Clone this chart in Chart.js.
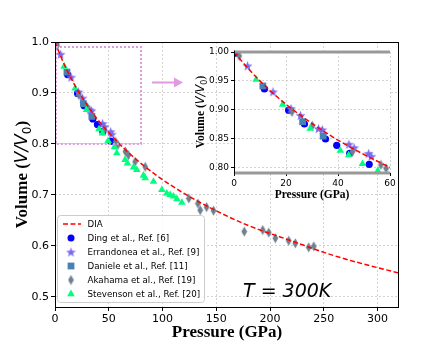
<!DOCTYPE html>
<html>
<head>
<meta charset="utf-8">
<script src="https://cdn.jsdelivr.net/npm/chart.js@4.4.0/dist/chart.umd.min.js"></script>
<style>
    html, body { margin: 0; padding: 0; background: #fff; }
    #wrap { position: relative; width: 443px; height: 346px; }
    #main { position: absolute; left: 0; top: 0; width: 443px; height: 346px; }
    #inset { position: absolute; left: 186px; top: 40px; width: 214px; height: 168px; }
</style>
</head>
<body>
<div id="wrap">
    <canvas id="main" width="443" height="346"></canvas>
    <canvas id="inset" width="214" height="168"></canvas>
</div>
<script>
// DIA curve
var diaP = [0, 5.7, 12.2, 19.8, 28.7, 38.9, 50.9, 64.8, 81.0, 100.0, 122.4, 148.7, 179.8, 219.6, 260.7, 313.5, 323.3];
var diaV = [1.0, 0.97, 0.94, 0.91, 0.88, 0.85, 0.82, 0.79, 0.76, 0.73, 0.70, 0.67, 0.64, 0.61, 0.58, 0.55, 0.545];

// Ding et al., Ref. [6]
var dingP = [0.6, 11.7, 21.0, 27.1, 35.2, 39.5, 44.5, 52.0];
var dingV = [0.998, 0.936, 0.899, 0.875, 0.849, 0.838, 0.824, 0.805];

// Errandonea et al., Ref. [9]
var errP = [5.2, 15.0, 21.9, 25.6, 32.5, 34.0, 44.2, 46.2, 51.8, 52.8];
var errV = [0.976, 0.931, 0.902, 0.890, 0.867, 0.865, 0.840, 0.834, 0.824, 0.819];

// Daniele et al., Ref. [11]
var danP = [11.1, 26.4, 34.3];
var danV = [0.941, 0.879, 0.854];

// Akahama et al., Ref. [19]
var akaP = [2.0, 22.3, 30.1, 45.6, 56.5, 58.5, 65.5, 68.3, 74.5, 83.9, 124.5, 133.0, 135.1, 141.0, 147.5, 176.1, 193.2, 198.8, 205.0, 217.4, 223.6, 236.0, 240.7];
var akaV = [0.993, 0.896, 0.872, 0.827, 0.804, 0.798, 0.785, 0.778, 0.765, 0.755, 0.693, 0.683, 0.670, 0.676, 0.669, 0.628, 0.631, 0.626, 0.615, 0.610, 0.605, 0.597, 0.599];

// Stevenson et al., Ref. [20]
var steP = [8.5, 18.7, 29.3, 40.9, 44.1, 49.4, 55.3, 57.5, 65.2, 67.4, 73.0, 76.1, 82.3, 83.9, 91.6, 99.4, 104.0, 107.1, 110.2, 113.4, 118.0];
var steV = [0.952, 0.909, 0.867, 0.829, 0.821, 0.806, 0.794, 0.782, 0.769, 0.762, 0.754, 0.749, 0.738, 0.733, 0.726, 0.710, 0.703, 0.700, 0.697, 0.692, 0.685];

var mainXTicks = [0, 50, 100, 150, 200, 250, 300];
var mainYTicks = [0.5, 0.6, 0.7, 0.8, 0.9, 1.0];
var insetXTicks = [0, 20, 40, 60];
var insetYTicks = [0.80, 0.85, 0.90, 0.95, 1.00];

var labels = ['DIA', 'Ding et al., Ref. [6]', 'Errandonea et al., Ref. [9]', 'Daniele et al., Ref. [11]', 'Akahama et al., Ref. [19]', 'Stevenson et al., Ref. [20]'];

var RED = '#ff0000', BLUE = '#0000ff', PURPLE = '#7b68ee', STEEL = '#4682b4', SLATE = '#708090', GREEN = '#00ff7f';
var PINK = '#e09be0';

function pts(xs, ys) {
    return xs.map(function (x, i) { return { x: x, y: ys[i] }; });
}

function makeStar() {
    var c = document.createElement('canvas');
    c.width = 11; c.height = 11;
    var g = c.getContext('2d');
    g.beginPath();
    for (var i = 0; i < 10; i++) {
        var r = i % 2 ? 2.1 : 5.2;
        var a = -Math.PI / 2 + i * Math.PI / 5;
        var px = 5.5 + r * Math.cos(a), py = 6 + r * Math.sin(a);
        if (i) g.lineTo(px, py); else g.moveTo(px, py);
    }
    g.closePath();
    g.fillStyle = PURPLE;
    g.fill();
    return c;
}

function makeDiamond() {
    var c = document.createElement('canvas');
    c.width = 7; c.height = 11;
    var g = c.getContext('2d');
    g.beginPath();
    g.moveTo(3.5, 0.5); g.lineTo(6.4, 5.5); g.lineTo(3.5, 10.5); g.lineTo(0.6, 5.5);
    g.closePath();
    g.fillStyle = SLATE;
    g.fill();
    return c;
}

var starImg = makeStar();
var diamondImg = makeDiamond();

function buildDatasets() {
    return [
        { label: labels[0], data: pts(diaP, diaV), showLine: true, borderColor: RED, borderWidth: 1.5,
          borderDash: [5, 2.5], pointRadius: 0, cubicInterpolationMode: 'monotone', order: 0 },
        { label: labels[1], data: pts(dingP, dingV), pointStyle: 'circle', pointRadius: 3.6,
          backgroundColor: BLUE, borderWidth: 0, order: 5, clip: 0 },
        { label: labels[2], data: pts(errP, errV), pointStyle: starImg, pointRadius: 5, order: 4, clip: 0 },
        { label: labels[3], data: pts(danP, danV), pointStyle: 'rect', pointRadius: 4.8,
          backgroundColor: STEEL, borderWidth: 0, order: 3, clip: 0 },
        { label: labels[4], data: pts(akaP, akaV), pointStyle: diamondImg, pointRadius: 5, order: 2, clip: 0 },
        { label: labels[5], data: pts(steP, steV), pointStyle: 'triangle', pointRadius: 4.4,
          backgroundColor: GREEN, borderWidth: 0, order: 1, clip: 0 }
    ];
}

function drawVolumeLabel(ctx, cx, cy, size) {
    var parts = [
        ['bold ' + size + 'px "Liberation Serif"', 'Volume (', 0],
        ['italic ' + size + 'px "DejaVu Sans"', 'V/V', 0],
        [Math.round(size * 0.7) + 'px "DejaVu Sans"', '0', size * 0.22],
        ['bold ' + size + 'px "Liberation Serif"', ')', 0]
    ];
    ctx.save();
    ctx.translate(cx, cy);
    ctx.rotate(-Math.PI / 2);
    var total = 0;
    parts.forEach(function (p) { ctx.font = p[0]; p.w = ctx.measureText(p[1]).width; total += p.w; });
    var x = -total / 2;
    ctx.fillStyle = '#000';
    ctx.textBaseline = 'alphabetic';
    parts.forEach(function (p) { ctx.font = p[0]; ctx.fillText(p[1], x, size * 0.35 + p[2]); x += p.w; });
    ctx.restore();
}

function drawPressureLabel(ctx, cx, cy, size) {
    ctx.save();
    ctx.font = 'bold ' + size + 'px "Liberation Serif"';
    ctx.fillStyle = '#000';
    ctx.textAlign = 'center';
    ctx.textBaseline = 'middle';
    ctx.fillText('Pressure (GPa)', cx, cy);
    ctx.restore();
}

function drawMarker(ctx, i, x, y) {
    ctx.save();
    if (i === 0) {
        ctx.strokeStyle = RED; ctx.lineWidth = 1.5; ctx.setLineDash([5, 2.5]);
        ctx.beginPath(); ctx.moveTo(x - 8, y); ctx.lineTo(x + 10, y); ctx.stroke();
    } else if (i === 1) {
        ctx.fillStyle = BLUE; ctx.beginPath(); ctx.arc(x, y, 3.5, 0, Math.PI * 2); ctx.fill();
    } else if (i === 2) {
        ctx.drawImage(starImg, x - 5.5, y - 5.5);
    } else if (i === 3) {
        ctx.fillStyle = STEEL; ctx.fillRect(x - 3.4, y - 3.4, 6.8, 6.8);
    } else if (i === 4) {
        ctx.drawImage(diamondImg, x - 3.5, y - 5.5);
    } else {
        ctx.fillStyle = GREEN; ctx.beginPath();
        ctx.moveTo(x, y - 4.4); ctx.lineTo(x + 3.8, y + 2.2); ctx.lineTo(x - 3.8, y + 2.2);
        ctx.closePath(); ctx.fill();
    }
    ctx.restore();
}

var mainDecor = {
    id: 'mainDecor',
    afterDraw: function (chart) {
        var ctx = chart.ctx, a = chart.chartArea, sx = chart.scales.x, sy = chart.scales.y;
        ctx.save();
        // zoom box
        ctx.strokeStyle = PINK; ctx.lineWidth = 2; ctx.setLineDash([2, 2]);
        var x0 = sx.getPixelForValue(0), x1 = sx.getPixelForValue(80);
        var y0 = sy.getPixelForValue(0.99), y1 = sy.getPixelForValue(0.8);
        ctx.strokeRect(x0 + 1, y0, x1 - x0 - 1, y1 - y0);
        ctx.setLineDash([]);
        // arrow
        ctx.lineWidth = 2;
        ctx.beginPath(); ctx.moveTo(152, 82.5); ctx.lineTo(176, 82.5); ctx.stroke();
        ctx.fillStyle = PINK;
        ctx.beginPath(); ctx.moveTo(183, 82.5); ctx.lineTo(174, 77.5); ctx.lineTo(174, 87.5); ctx.closePath(); ctx.fill();
        // frame
        ctx.strokeStyle = '#000'; ctx.lineWidth = 1;
        ctx.strokeRect(a.left + 0.5, a.top + 0.5, a.right - a.left - 1, a.bottom - a.top);
        // legend
        var lx = 57, ly = 215, lw = 147, lh = 87;
        ctx.fillStyle = 'rgba(255,255,255,0.85)';
        ctx.strokeStyle = '#cccccc';
        ctx.beginPath(); ctx.roundRect(lx + 0.5, ly + 0.5, lw, lh, 3); ctx.fill(); ctx.stroke();
        ctx.font = '8.7px "DejaVu Sans"';
        ctx.textBaseline = 'middle';
        for (var i = 0; i < labels.length; i++) {
            var yy = 224 + i * 14;
            drawMarker(ctx, i, 71, yy);
            ctx.fillStyle = '#000';
            ctx.fillText(labels[i], 87.5, yy + 0.5);
        }
        // temperature
        ctx.font = 'italic 19px "DejaVu Sans"';
        ctx.textBaseline = 'alphabetic';
        ctx.fillText('T = 300K', 243, 297);
        ctx.restore();
        drawVolumeLabel(ctx, 21, 174.5, 17);
        drawPressureLabel(ctx, 227, 333, 17);
    }
};

var insetDecor = {
    id: 'insetDecor',
    beforeDraw: function (chart) {
        var ctx = chart.ctx, a = chart.chartArea;
        ctx.save();
        ctx.fillStyle = '#fff';
        ctx.fillRect(a.left, a.top, a.right - a.left, a.bottom - a.top);
        ctx.restore();
    },
    afterDraw: function (chart) {
        var ctx = chart.ctx, a = chart.chartArea;
        ctx.save();
        ctx.strokeStyle = '#999999'; ctx.lineWidth = 3;
        ctx.beginPath();
        ctx.moveTo(a.left, a.top); ctx.lineTo(a.right, a.top);
        ctx.moveTo(a.left, a.bottom); ctx.lineTo(a.right, a.bottom);
        ctx.stroke();
        ctx.strokeStyle = '#000'; ctx.lineWidth = 1;
        ctx.beginPath(); ctx.moveTo(a.left + 0.5, a.top - 1.5); ctx.lineTo(a.left + 0.5, a.bottom + 1.5); ctx.stroke();
        ctx.restore();
        drawVolumeLabel(ctx, 14, 72, 11.5);
        drawPressureLabel(ctx, 126, 155, 11.5);
    }
};

function axis(min, max, ticks, digits, size, fitKey, fitVal, tickLen) {
    return {
        type: 'linear', min: min, max: max,
        border: { display: false, dash: [2, 2] },
        grid: { color: '#c8c8c8', lineWidth: 0.8, tickColor: '#000', tickLength: tickLen, tickWidth: 1, tickBorderDash: [] },
        ticks: {
            stepSize: ticks[1] - ticks[0], includeBounds: false, color: '#000', padding: 2, maxRotation: 0,
            font: { family: '"DejaVu Sans"', size: size },
            callback: function (v) { return v.toFixed(digits); }
        },
        afterFit: function (s) { s[fitKey] = fitVal; }
    };
}

new Chart(document.getElementById('main').getContext('2d'), {
    type: 'scatter',
    data: { datasets: buildDatasets() },
    options: {
        responsive: false,
        animation: false,
        layout: { padding: { top: 42, right: 44, left: 0, bottom: 0 } },
        plugins: { legend: { display: false }, tooltip: { enabled: false } },
        scales: {
            x: axis(0, 320, mainXTicks, 0, 11, 'height', 39, 4),
            y: axis(0.48, 1.0, mainYTicks, 1, 11, 'width', 55, 4)
        }
    },
    plugins: [mainDecor]
});

new Chart(document.getElementById('inset').getContext('2d'), {
    type: 'scatter',
    data: { datasets: buildDatasets() },
    options: {
        responsive: false,
        animation: false,
        layout: { padding: { top: 12, right: 10, left: 0, bottom: 0 } },
        plugins: { legend: { display: false }, tooltip: { enabled: false } },
        scales: {
            x: axis(0, 60, insetXTicks, 0, 9, 'height', 35, 3),
            y: axis(0.79, 1.0, insetYTicks, 2, 9, 'width', 48, 3)
        }
    },
    plugins: [insetDecor]
});
</script>
</body>
</html>
